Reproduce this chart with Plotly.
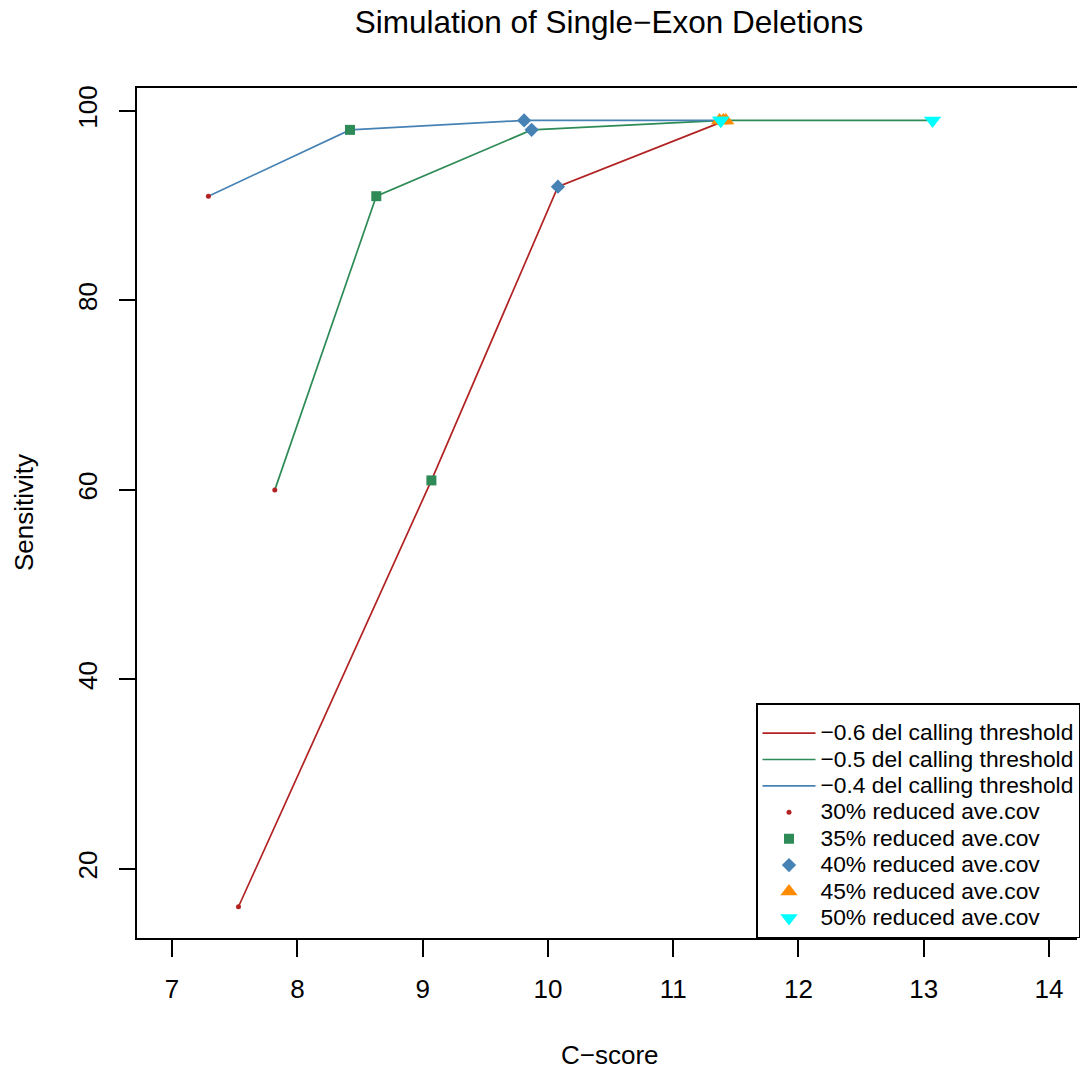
import plotly.graph_objects as go

# ---- data ----
thresholds = ["\u22120.6 del calling threshold", "\u22120.5 del calling threshold", "\u22120.4 del calling threshold"]
line_colors = ["#B22222", "#2E8B57", "#4682B4"]
coverages = ["30% reduced ave.cov", "35% reduced ave.cov", "40% reduced ave.cov",
             "45% reduced ave.cov", "50% reduced ave.cov"]
# C-score (x) for each threshold across coverage levels 30,35,40,45,50 %
cscore_06 = [7.53, 9.07, 10.08, 11.42, 11.38]
cscore_05 = [7.82, 8.63, 9.87, 11.40, 13.07]
cscore_04 = [7.29, 8.42, 9.81, 11.37, 11.38]
# Sensitivity (y)
sens_06 = [16, 61, 92, 99, 99]
sens_05 = [60, 91, 98, 99, 99]
sens_04 = [91, 98, 99, 99, 99]
x_ticks = [7, 8, 9, 10, 11, 12, 13, 14]
y_ticks = [20, 40, 60, 80, 100]

xs = [cscore_06, cscore_05, cscore_04]
ys = [sens_06, sens_05, sens_04]

marker_colors = ["#B22222", "#2E8B57", "#4682B4", "#FF8C00", "#00FFFF"]
marker_symbols = ["circle", "square", "diamond", "triangle-up", "triangle-down"]
marker_sizes = [5, 10, 11, 15, 15]

FONT = "Liberation Sans, Arial, Helvetica, sans-serif"


def big(s):
    return '<span style="font-size:22.8px">' + s + '</span>'


fig = go.Figure()
for name, col, x, y in zip(thresholds, line_colors, xs, ys):
    fig.add_trace(go.Scatter(x=x, y=y, mode="lines", name=big(name),
                             line=dict(color=col, width=1.7)))
for i, (name, col, sym, sz) in enumerate(zip(coverages, marker_colors, marker_symbols, marker_sizes)):
    fig.add_trace(go.Scatter(x=[xs[k][i] for k in range(3)], y=[ys[k][i] for k in range(3)],
                             mode="markers", name=big(name),
                             marker=dict(color=col, symbol=sym, size=sz, line=dict(width=0))))

W, H = 1080, 1070
L, T, B = 137, 88, 132
fig.update_layout(
    width=W, height=H,
    margin=dict(l=L, r=0, t=T, b=B),
    paper_bgcolor="white", plot_bgcolor="white",
    font=dict(family=FONT, color="black", size=26),
    title=dict(text="Simulation of Single\u2212Exon Deletions", font=dict(size=31.5),
               xref="paper", x=(610.5 - L) / (W - L), xanchor="center",
               yref="container", y=1 - 22 / H, yanchor="middle"),
    showlegend=True,
    legend=dict(x=(758 - L) / (W - L), xanchor="left", y=0, yanchor="bottom",
                bgcolor="white", bordercolor="black", borderwidth=1.5,
                font=dict(size=18), itemwidth=53, tracegroupgap=0,
                title=dict(text=" ", font=dict(size=8), side="top")),
)
fig.update_xaxes(range=[6.72, 7 + (W - 174) / 125.43], tickvals=x_ticks,
                 showgrid=False, zeroline=False,
                 showline=True, mirror=True, linecolor="black", linewidth=1.5,
                 ticks="outside", ticklen=17, tickwidth=1.5, tickcolor="black",
                 tickfont=dict(size=26), ticklabelstandoff=10)
fig.update_yaxes(range=[12.7, 102.42], tickvals=y_ticks,
                 showgrid=False, zeroline=False,
                 showline=True, mirror=False, linecolor="black", linewidth=1.5,
                 ticks="outside", ticklen=16, tickwidth=1.5, tickcolor="black",
                 tickfont=dict(size=26), tickangle=-90, ticklabelstandoff=12)

fig.add_annotation(text="C\u2212score", xref="paper", yref="paper",
                   x=(612 - L) / (W - L), y=0, yshift=-(1055 - 938),
                   xanchor="center", yanchor="middle", showarrow=False, font=dict(size=26))
fig.add_annotation(text="Sensitivity", xref="paper", yref="paper",
                   x=0, xshift=-(L - 24), y=0.5, textangle=-90,
                   xanchor="center", yanchor="middle", showarrow=False, font=dict(size=26))

fig.write_html("out.html")
